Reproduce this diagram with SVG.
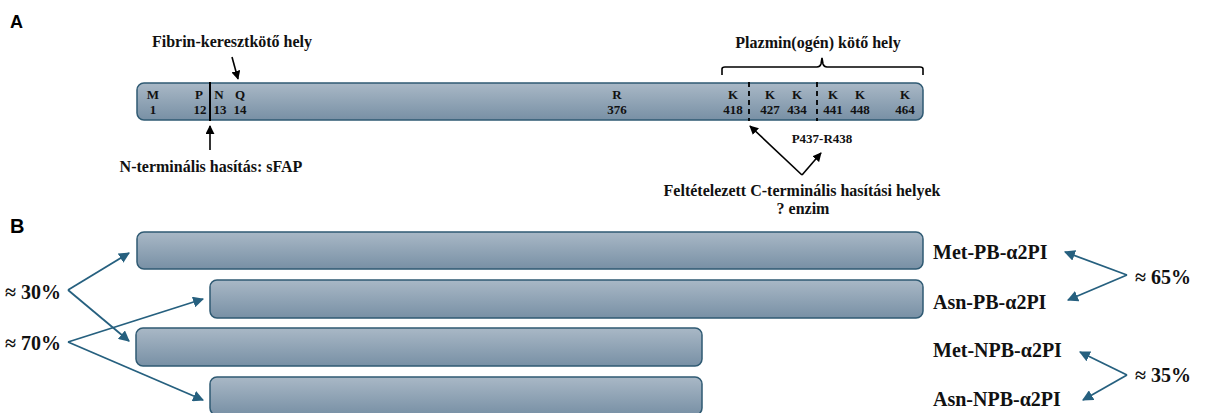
<svg xmlns="http://www.w3.org/2000/svg" width="1210" height="413" viewBox="0 0 1210 413">
<defs>
<linearGradient id="barg" x1="0" y1="0" x2="0" y2="1">
<stop offset="0" stop-color="#a9b8c6"/>
<stop offset="1" stop-color="#7890a5"/>
</linearGradient>
<marker id="ab" viewBox="0 0 10 10" refX="9" refY="5" markerWidth="9" markerHeight="9" markerUnits="userSpaceOnUse" orient="auto">
<path d="M0,0 L10,5 L0,10 z" fill="#000"/>
</marker>
<marker id="at" viewBox="0 0 10 10" refX="9" refY="5" markerWidth="11" markerHeight="11" markerUnits="userSpaceOnUse" orient="auto">
<path d="M0,0 L10,5 L0,10 z" fill="#26607f"/>
</marker>
</defs>
<style>
.bar{fill:url(#barg);stroke:#2f5a73;stroke-width:1.5}
.t{font-family:"Liberation Serif","Times New Roman",serif;font-weight:bold;fill:#111}
.s{font-size:13px;text-anchor:middle}
.m{font-size:16px;text-anchor:middle}
.l{font-size:20px}
.h{font-family:"Liberation Sans",Arial,sans-serif;font-weight:bold;fill:#000}
.k{stroke:#000;stroke-width:1.6;fill:none}
.bl{stroke:#26607f;stroke-width:1.8;fill:none}
</style>
<rect width="1210" height="413" fill="#fff"/>
<text class="h" x="10" y="28" font-size="18">A</text>
<text class="h" x="10" y="233" font-size="20">B</text>

<g id="protein">
<rect class="bar" x="137" y="83" width="786" height="37" rx="7"/>
<line x1="210" y1="82" x2="210" y2="121" stroke="#000" stroke-width="2"/>
<line x1="749" y1="82" x2="749" y2="121" stroke="#000" stroke-width="1.8" stroke-dasharray="5,4"/>
<line x1="817" y1="82" x2="817" y2="121" stroke="#000" stroke-width="1.8" stroke-dasharray="5,4"/>
<g class="t s">
<text x="153" y="99">M</text><text x="153" y="114">1</text>
<text x="199" y="99">P</text><text x="200" y="114">12</text>
<text x="219" y="99">N</text><text x="220" y="114">13</text>
<text x="240" y="99">Q</text><text x="240" y="114">14</text>
<text x="617" y="99">R</text><text x="617" y="114">376</text>
<text x="733" y="99">K</text><text x="733" y="114">418</text>
<text x="770" y="99">K</text><text x="770" y="114">427</text>
<text x="797" y="99">K</text><text x="797" y="114">434</text>
<text x="833" y="99">K</text><text x="833" y="114">441</text>
<text x="860" y="99">K</text><text x="860" y="114">448</text>
<text x="905" y="99">K</text><text x="905" y="114">464</text>
</g>
</g>

<g id="labelsA">
<text class="t m" x="232" y="47">Fibrin-keresztkötő hely</text>
<text class="t m" x="211" y="172">N-terminális hasítás: sFAP</text>
<text class="t m" x="818" y="48">Plazmin(ogén) kötő hely</text>
<text class="t s" x="822" y="143">P437-R438</text>
<text class="t m" x="802" y="196">Feltételezett C-terminális hasítási helyek</text>
<text class="t m" x="803" y="214">? enzim</text>
<path class="k" d="M722,75 L722,69 Q722,67 725,67 L817,67 Q820,67 821,64 L822,58 L823,64 Q824,67 827,67 L920,67 Q923,67 923,69 L923,75" stroke-width="1.5"/>
</g>

<g id="barsB">
<rect id="b1" class="bar" x="137" y="232" width="786" height="37" rx="7"/>
<rect id="b2" class="bar" x="210" y="280" width="713" height="38" rx="7"/>
<rect id="b3" class="bar" x="136" y="328" width="566" height="38" rx="7"/>
<rect id="b4" class="bar" x="210" y="377" width="492" height="38" rx="7"/>
</g>

<g id="labelsB" class="t l">
<text x="5" y="299">≈ 30%</text>
<text x="5" y="350">≈ 70%</text>
<text x="933" y="259">Met-PB-α2PI</text>
<text x="933" y="309">Asn-PB-α2PI</text>
<text x="933" y="357">Met-NPB-α2PI</text>
<text x="933" y="406">Asn-NPB-α2PI</text>
<text x="1135" y="284">≈ 65%</text>
<text x="1135" y="382">≈ 35%</text>
</g>

<g id="connectors">
<line class="k" x1="232" y1="57" x2="238" y2="79" marker-end="url(#ab)"/>
<line class="k" x1="210" y1="150" x2="210" y2="126" marker-end="url(#ab)"/>
<line class="k" x1="802" y1="175" x2="750" y2="126" marker-end="url(#ab)"/>
<line class="k" x1="802" y1="175" x2="821" y2="153" marker-end="url(#ab)"/>
<line class="bl" x1="68" y1="290" x2="129" y2="253" marker-end="url(#at)"/>
<line class="bl" x1="68" y1="290" x2="129" y2="341" marker-end="url(#at)"/>
<line class="bl" x1="68" y1="342" x2="203" y2="299" marker-end="url(#at)"/>
<line class="bl" x1="68" y1="342" x2="203" y2="400" marker-end="url(#at)"/>
<line class="bl" x1="1127" y1="275" x2="1065" y2="252" marker-end="url(#at)"/>
<line class="bl" x1="1127" y1="275" x2="1068" y2="300" marker-end="url(#at)"/>
<line class="bl" x1="1127" y1="375" x2="1080" y2="352" marker-end="url(#at)"/>
<line class="bl" x1="1127" y1="375" x2="1083" y2="400" marker-end="url(#at)"/>
</g>
</svg>
